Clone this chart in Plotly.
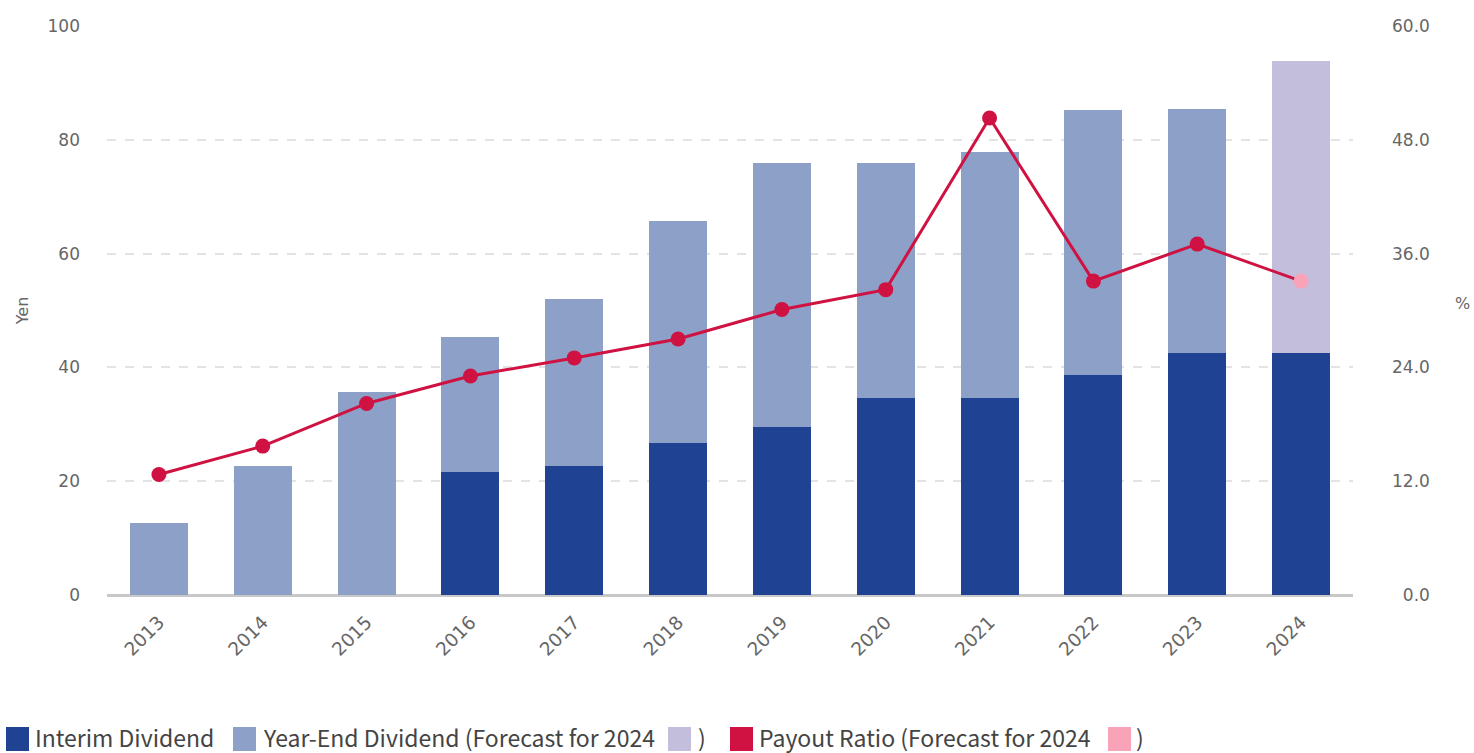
import plotly.graph_objects as go

# Fiscal years and dividend data (yen per share) with payout ratio (%)
years = ["2013", "2014", "2015", "2016", "2017", "2018",
         "2019", "2020", "2021", "2022", "2023", "2024"]
interim_dividend = [0, 0, 0, 21.6, 22.7, 26.7, 29.5, 34.6, 34.6, 38.7, 42.5, 42.5]
year_end_dividend = [12.7, 22.7, 35.7, 23.7, 29.3, 39.0, 46.4, 41.3, 43.3, 46.5, 42.9, 51.3]
payout_ratio = [12.7, 15.7, 20.2, 23.1, 25.0, 27.0, 30.1, 32.2, 50.3, 33.1, 37.0, 33.1]
forecast_year = "2024"

left_ticks = [0, 20, 40, 60, 80, 100]
right_ticks = [0, 12, 24, 36, 48, 60]

C_INTERIM = "#1f4293"
C_YEAREND = "#8da0c8"
C_YEAREND_FC = "#c4bedd"
C_RATIO = "#cf1241"
C_RATIO_FC = "#f9a3b8"
C_TEXT = "#666666"

year_end_colors = [C_YEAREND_FC if y == forecast_year else C_YEAREND for y in years]
ratio_colors = [C_RATIO_FC if y == forecast_year else C_RATIO for y in years]

fig = go.Figure()
fig.add_trace(go.Bar(x=years, y=interim_dividend, name="Interim Dividend",
                     marker=dict(color=C_INTERIM, line=dict(width=0)),
                     showlegend=False))
fig.add_trace(go.Bar(x=years, y=year_end_dividend, name="Year-End Dividend",
                     marker=dict(color=year_end_colors, line=dict(width=0)),
                     showlegend=False))
fig.add_trace(go.Scatter(x=years, y=payout_ratio, name="Payout Ratio", yaxis="y2",
                         mode="lines+markers",
                         line=dict(color=C_RATIO, width=3),
                         marker=dict(color=ratio_colors, size=15),
                         showlegend=False))

W, H = 1474, 753
ML, MR, MT, MB = 107, 121, 26, 158
PW, PH = W - ML - MR, H - MT - MB


def px(x):
    return (x - ML) / PW


def py(y):
    return (H - MB - y) / PH


# Legend built from swatches and text, laid out on one row below the plot
legend_font = dict(family="Noto Sans CJK JP", size=23, color="#444444")
swatches = [(6, 29, C_INTERIM), (233, 256, C_YEAREND), (668, 691, C_YEAREND_FC),
            (730, 753, C_RATIO), (1108, 1131, C_RATIO_FC)]
shapes = []
for x0, x1, col in swatches:
    shapes.append(dict(type="rect", xref="paper", yref="paper",
                       x0=px(x0), x1=px(x1), y0=py(751), y1=py(727),
                       fillcolor=col, line=dict(width=0), layer="above"))

legend_texts = [(33, "Interim Dividend"),
                (261, "Year-End Dividend (Forecast for 2024"),
                (696, ")"),
                (757, "Payout Ratio (Forecast for 2024"),
                (1134, ")")]
annotations = []
for x0, txt in legend_texts:
    annotations.append(dict(xref="paper", yref="paper", x=px(x0), y=py(737),
                            xanchor="left", yanchor="middle", text=txt,
                            showarrow=False, font=legend_font))

# Right axis unit, drawn horizontally
annotations.append(dict(xref="paper", yref="paper", x=px(1462), y=py(303),
                        xanchor="center", yanchor="middle", text="%",
                        showarrow=False,
                        font=dict(family="DejaVu Sans", size=16, color=C_TEXT)))

tick_font = dict(family="DejaVu Sans", size=17, color=C_TEXT)
FIG_SPACE = "\u2007"
right_text = [f"{v:.1f}".rjust(4, FIG_SPACE) for v in right_ticks]

fig.update_layout(
    width=W, height=H,
    margin=dict(l=ML, r=MR, t=MT, b=MB, pad=0),
    paper_bgcolor="white", plot_bgcolor="white",
    barmode="stack", bargap=0.44,
    font=dict(family="DejaVu Sans", color=C_TEXT),
    xaxis=dict(type="category", range=[-0.5, len(years) - 0.5], tickangle=-45,
               tickfont=dict(family="DejaVu Sans", size=18.5, color=C_TEXT),
               showgrid=False, showline=False, zeroline=False, ticks="",
               ticklabelstandoff=12),
    yaxis=dict(range=[0, 100], tickvals=left_ticks, tickfont=tick_font,
               showgrid=True, gridcolor="#e3e3e3", griddash="dash", gridwidth=1.5,
               zeroline=True, zerolinecolor="#c8c8c8", zerolinewidth=3,
               showline=False, ticks="", ticklabelstandoff=26,
               title=dict(text="Yen", font=dict(family="DejaVu Sans", size=16, color=C_TEXT),
                          standoff=14)),
    yaxis2=dict(range=[0, 60], overlaying="y", side="right",
                tickvals=right_ticks, ticktext=right_text, tickfont=tick_font,
                showgrid=False, zeroline=False, showline=False, ticks="",
                ticklabelstandoff=38),
    shapes=shapes,
    annotations=annotations,
)

fig.write_html("out.html")
